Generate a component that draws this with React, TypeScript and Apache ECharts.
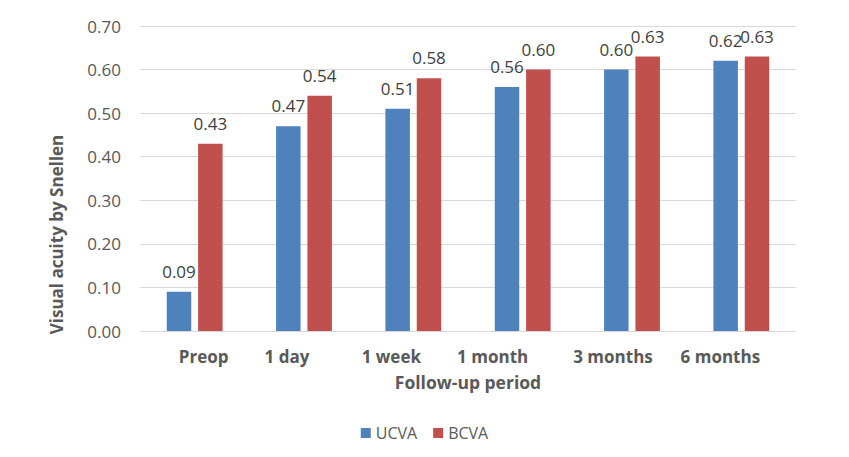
import React, { useEffect, useRef } from "react";
import * as echarts from "echarts";

const categories = ["Preop", "1 day", "1 week", "1 month", "3 months", "6 months"];
const ucva = [0.09, 0.47, 0.51, 0.56, 0.6, 0.62];
const bcva = [0.43, 0.54, 0.58, 0.6, 0.63, 0.63];
const yTicks = { min: 0, max: 0.7, interval: 0.1 };
// horizontal shift of each category label, px (positive = right)
const labelShift = [9, -17, -22, -30, -19, -21];

const FONT = "'Open Sans', 'Noto Sans', sans-serif";

export default function App() {
  const ref = useRef<HTMLDivElement>(null);
  useEffect(() => {
    document.body.style.margin = "0";
    if (!ref.current) return;
    const chart = echarts.init(ref.current, null, { renderer: "svg" });
    const rich: Record<string, any> = {};
    labelShift.forEach((s, i) => {
      rich["c" + i] = {
        fontFamily: FONT,
        fontSize: 17,
        fontWeight: "bold",
        color: "#595959",
        padding: s >= 0 ? [0, 0, 0, 2 * s] : [0, -2 * s, 0, 0],
      };
    });
    const dataLabel = {
      show: true,
      position: "top",
      distance: 12,
      fontFamily: FONT,
      fontSize: 17,
      color: "#404040",
      formatter: (p: any) => p.value.toFixed(2),
    };
    chart.setOption({
      animation: false,
      textStyle: { fontFamily: FONT },
      grid: { left: 140, right: 53, top: 26, bottom: 126 },
      legend: {
        data: ["UCVA", "BCVA"],
        left: "center",
        top: 420,
        icon: "rect",
        itemWidth: 10,
        itemHeight: 10,
        itemGap: 16,
        textStyle: { fontFamily: FONT, fontSize: 16, color: "#595959" },
      },
      xAxis: {
        type: "category",
        data: categories,
        name: "Follow-up period",
        nameLocation: "middle",
        nameGap: 42,
        nameTextStyle: { fontFamily: FONT, fontSize: 17.5, fontWeight: "bold", color: "#595959" },
        axisLine: { lineStyle: { color: "#D9D9D9" } },
        axisTick: { show: false },
        axisLabel: {
          margin: 17,
          interval: 0,
          formatter: (v: string, i: number) => `{c${i}|${v}}`,
          rich,
        },
      },
      yAxis: {
        type: "value",
        min: yTicks.min,
        max: yTicks.max,
        interval: yTicks.interval,
        name: "Visual acuity by Snellen",
        nameLocation: "middle",
        nameGap: 75,
        nameTextStyle: {
          fontFamily: FONT,
          fontSize: 17,
          fontWeight: "bold",
          color: "#595959",
          padding: [0, 112, 0, 0],
        },
        axisLine: { show: false },
        axisTick: { show: false },
        splitLine: { lineStyle: { color: "#D9D9D9" } },
        axisLabel: {
          margin: 19,
          fontFamily: FONT,
          fontSize: 17,
          color: "#595959",
          formatter: (v: number) => v.toFixed(2),
        },
      },
      series: [
        {
          name: "UCVA",
          type: "bar",
          data: ucva,
          barWidth: "22.4%",
          barGap: "28%",
          itemStyle: { color: "#4F81BD" },
          label: dataLabel,
        },
        {
          name: "BCVA",
          type: "bar",
          data: bcva,
          barWidth: "22.4%",
          barGap: "28%",
          itemStyle: { color: "#C0504D" },
          label: dataLabel,
        },
      ],
    });
    return () => chart.dispose();
  }, []);
  return <div ref={ref} style={{ width: 849, height: 457 }} />;
}
